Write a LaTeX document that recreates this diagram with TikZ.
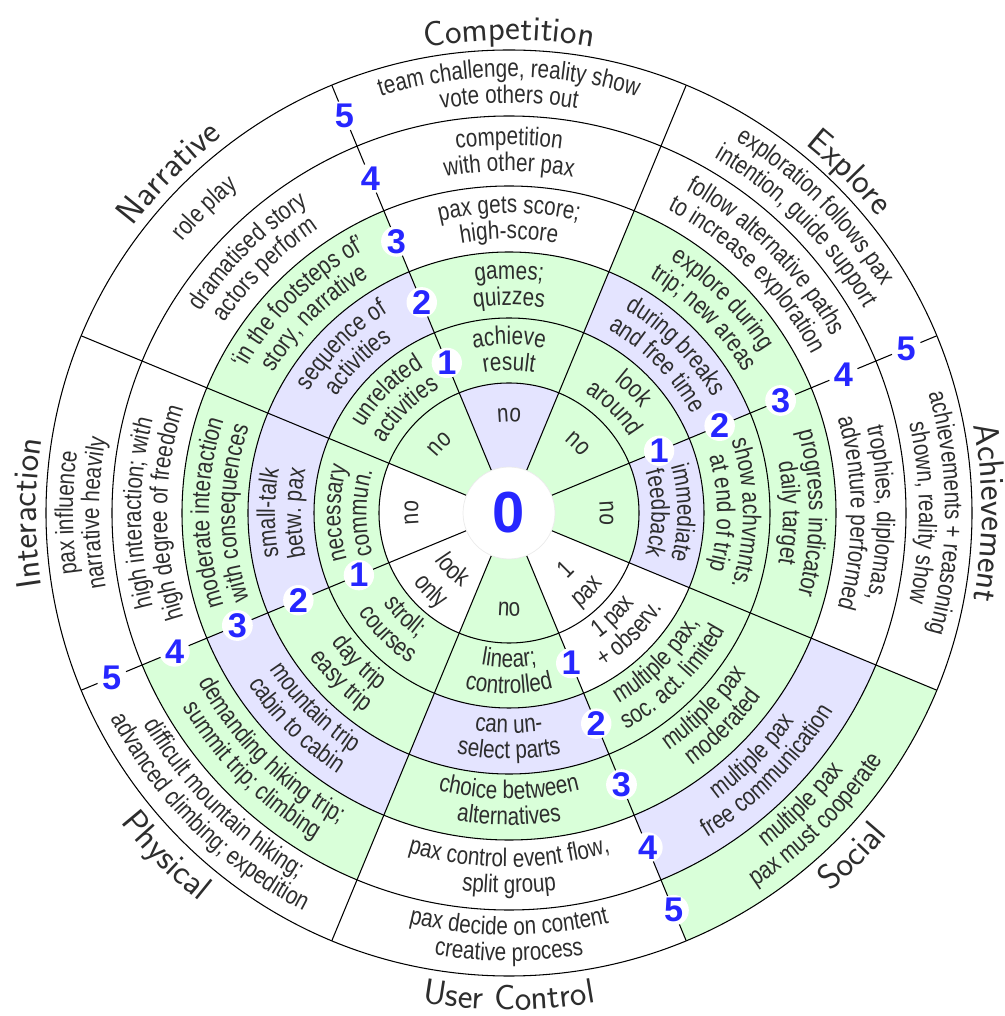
\documentclass[tikz,border=0pt]{standalone}
\usepackage{fontspec}
\usetikzlibrary{decorations.text}
\newfontfamily\ringfam[FakeStretch=0.81]{Liberation Sans}
\newfontfamily\digitfam{Liberation Sans}
\definecolor{cellgreen}{RGB}{217,255,217}
\definecolor{celllav}{RGB}{228,228,255}
\definecolor{inkgray}{RGB}{45,45,45}
\definecolor{levelblue}{RGB}{38,38,255}
\newcommand{\ringfont}{\ringfam\fontsize{14.5}{16}\selectfont}
\newcommand{\catfont}{\sffamily\fontsize{20}{24}\selectfont}
% text on an arc: tops outward / tops inward
\newcommand{\outarc}[4][\ringfont]{%
  \path[decorate, decoration={text along path, text align=center,
    text color=inkgray, text={|#1|#4}}]
    (#2+22:#3) arc[start angle=#2+22, end angle=#2-22, radius=#3];}
\newcommand{\inarc}[4][\ringfont]{%
  \path[decorate, decoration={text along path, text align=center,
    text color=inkgray, text={|#1|#4}}]
    (#2-22:#3) arc[start angle=#2-22, end angle=#2+22, radius=#3];}
% two lines around the middle of a ring
\newcommand{\outcell}[4]{\outarc{#1}{#2+6}{#3}\outarc{#1}{#2-20}{#4}}
\newcommand{\incell}[4]{\inarc{#1}{#2-8}{#3}\inarc{#1}{#2+18}{#4}}

\begin{document}
\begin{tikzpicture}[x=0.02cm, y=0.02cm,
    ring/.style={line width=0.6pt},
    levelmark/.style={circle, fill=white, inner sep=0pt, minimum size=0.58cm,
      text=levelblue, font=\digitfam\bfseries\fontsize{19.5}{22}\selectfont},
    zero/.style={circle, fill=white, draw=black!8, inner sep=0pt, minimum size=1.84cm,
      text=levelblue, font=\digitfam\bfseries\fontsize{33}{36}\selectfont}
]
    \useasboundingbox (-509,-503) rectangle (495,513);

    % cells: angle/inner/outer
    \foreach \a/\ri/\ro in {0/46/130, 0/195/261, 0/261/327, 45/46/130, 45/130/195,
        45/261/327, 90/130/195, 90/195/261, 135/46/130, 135/130/195, 135/261/327,
        180/130/195, 180/261/327, 225/130/195, 225/195/261, 225/327/397,
        270/46/130, 270/130/195, 270/261/327, 315/195/261, 315/261/327, 315/397/463}
        \fill[cellgreen] (\a-22.5:\ri) arc[start angle=\a-22.5, end angle=\a+22.5, radius=\ri]
            -- (\a+22.5:\ro) arc[start angle=\a+22.5, end angle=\a-22.5, radius=\ro] -- cycle;
    \foreach \a/\ri/\ro in {0/130/195, 45/195/261, 90/46/130, 135/195/261,
        180/195/261, 225/261/327, 270/195/261, 315/327/397}
        \fill[celllav] (\a-22.5:\ri) arc[start angle=\a-22.5, end angle=\a+22.5, radius=\ri]
            -- (\a+22.5:\ro) arc[start angle=\a+22.5, end angle=\a-22.5, radius=\ro] -- cycle;

    \foreach \r in {130,195,261,327,397,463}
        \draw[ring] (0,0) circle[radius=\r];
    \foreach \a in {22.5,67.5,...,337.5}
        \draw[ring] (\a:46) -- (\a:463);

    \node[zero] (zero) at (0,0) {0};
    \foreach \a/\s in {22.5/ea, 112.5/nw, 202.5/ws, 292.5/se}
        \foreach \k/\r in {1/162.5, 2/228, 3/294, 4/362, 5/430}
            \node[levelmark] (\s\k) at (\a:\r) {\k};

    % Achievement
    \outarc{0}{91}{no}
    \outcell{0}{162.5}{immediate}{feedback}
    \outcell{0}{228}{show achvmnts.}{at end of trip}
    \outcell{0}{294}{progress indicator}{daily target}
    \outcell{0}{362}{trophies, diplomas,}{adventure performed}
    \outcell{0}{430}{achievements + reasoning}{shown, reality show}
    % Explore
    \outarc{45}{91}{no}
    \outcell{45}{162.5}{look}{around}
    \outcell{45}{228}{during breaks}{and free time}
    \outcell{45}{294}{explore during}{trip; new areas}
    \outcell{45}{362}{follow alternative paths}{to increase exploration}
    \outcell{45}{430}{exploration follows pax}{intention, guide support}
    % Competition
    \outarc{90}{91}{no}
    \outcell{90}{162.5}{achieve}{result}
    \outcell{90}{228}{games;}{quizzes}
    \outcell{90}{294}{pax gets score;}{high-score}
    \outcell{90}{362}{competition}{with other pax}
    \outcell{90}{430}{team challenge, reality show}{vote others out}
    % Narrative
    \outarc{135}{91}{no}
    \outcell{135}{162.5}{unrelated}{activities}
    \outcell{135}{228}{sequence of}{activities}
    \outcell{135}{294}{‘in the footsteps of’}{story, narrative}
    \outcell{135}{362}{dramatised story}{actors perform}
    \outarc{135}{424}{role play}
    % Interaction
    \outarc{180}{91}{no}
    \outcell{180}{162.5}{necessary}{commun.}
    \outcell{180}{228}{small-talk}{betw. pax}
    \outcell{180}{294}{moderate interaction}{with consequences}
    \outcell{180}{362}{high interaction; with}{high degree of freedom}
    \outcell{180}{430}{pax influence}{narrative heavily}
    % Physical
    \inarc{225}{88}{look}\inarc{225}{118}{only}
    \incell{225}{162.5}{stroll;}{courses}
    \incell{225}{228}{day trip}{easy trip}
    \incell{225}{294}{mountain trip}{cabin to cabin}
    \incell{225}{362}{demanding hiking trip;}{summit trip; climbing}
    \incell{225}{430}{difficult mountain hiking;}{advanced climbing; expedition}
    % User Control
    \inarc{270}{103}{no}
    \incell{270}{162.5}{linear;}{controlled}
    \incell{270}{228}{can un-}{select parts}
    \incell{270}{294}{choice between}{alternatives}
    \incell{270}{362}{pax control event flow,}{split group}
    \incell{270}{430}{pax decide on content}{creative process}
    % Social
    \inarc{315}{88}{1}\inarc{315}{118}{pax}
    \incell{315}{162.5}{1 pax}{+ observ.}
    \incell{315}{228}{multiple pax,}{soc. act. limited}
    \incell{315}{294}{multiple pax}{moderated}
    \incell{315}{362}{multiple pax}{free communication}
    \incell{315}{430}{multiple pax}{pax must cooperate}

    % category names
    \outarc[\catfont]{0}{473}{Achievement}
    \outarc[\catfont]{45}{473}{Explore}
    \outarc[\catfont]{90}{473}{Competition}
    \outarc[\catfont]{135}{473}{Narrative}
    \outarc[\catfont]{180}{473}{Interaction}
    \inarc[\catfont]{225}{497}{Physical}
    \inarc[\catfont]{270}{497}{User Control}
    \inarc[\catfont]{315}{497}{Social}
\end{tikzpicture}
\end{document}
